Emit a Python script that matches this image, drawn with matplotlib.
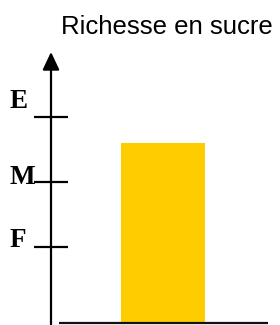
import matplotlib
matplotlib.use("Agg")
import matplotlib.pyplot as plt

# Data
title = "Richesse en sucre"
level_labels = ["F", "M", "E"]
level_values = [1, 2, 3]
bar_positions = [0]
bar_values = [2.6]

W, H, DPI = 280, 325, 100
fig = plt.figure(figsize=(W / DPI, H / DPI), dpi=DPI)
fig.patch.set_facecolor("white")

ax = fig.add_axes([51 / W, 0, 217 / W, (H - 52) / H])
ax.set_xlim(-0.516, 0.484)
ax.set_ylim(-0.2, 4.0)
for s in ax.spines.values():
    s.set_visible(False)
ax.set_xticks([])
ax.set_yticks(level_values)
ax.tick_params(axis="y", direction="inout", length=24, width=1.6,
               color="black", labelleft=False)

baseline = -0.17
ax.bar(bar_positions, [v - baseline for v in bar_values], bottom=baseline,
       width=0.387, color="#FFCC00", edgecolor="none", zorder=2)

# horizontal axis line
ax.plot([0.037, 1.0], [baseline, baseline], color="#111111", lw=1.6,
        transform=ax.get_yaxis_transform(), solid_capstyle="butt",
        clip_on=False, zorder=3)

# vertical axis arrow
ax.annotate("", xy=(0, 1), xycoords="axes fraction", xytext=(0, 0),
            textcoords="axes fraction",
            arrowprops=dict(arrowstyle="-|>,head_length=0.72,head_width=0.34",
                            mutation_scale=15, lw=1.6, color="black",
                            shrinkA=0, shrinkB=0),
            annotation_clip=False, zorder=4)

# level labels
offsets = {"F": 0, "M": -2, "E": 9}
for lab, val in zip(level_labels, level_values):
    ax.annotate(lab, xy=(10 / W, val), xycoords=("figure fraction", "data"),
                xytext=(0, offsets[lab]), textcoords="offset pixels",
                ha="left", va="baseline", fontsize=19.5, fontweight="heavy",
                family="Liberation Serif", color="black",
                annotation_clip=False)

fig.text(166.5 / W, 1 - 34 / H, title, ha="center", va="baseline",
         fontsize=18.5, family="Liberation Sans", color="black")

fig.savefig("out.png", dpi=DPI, facecolor="white")
